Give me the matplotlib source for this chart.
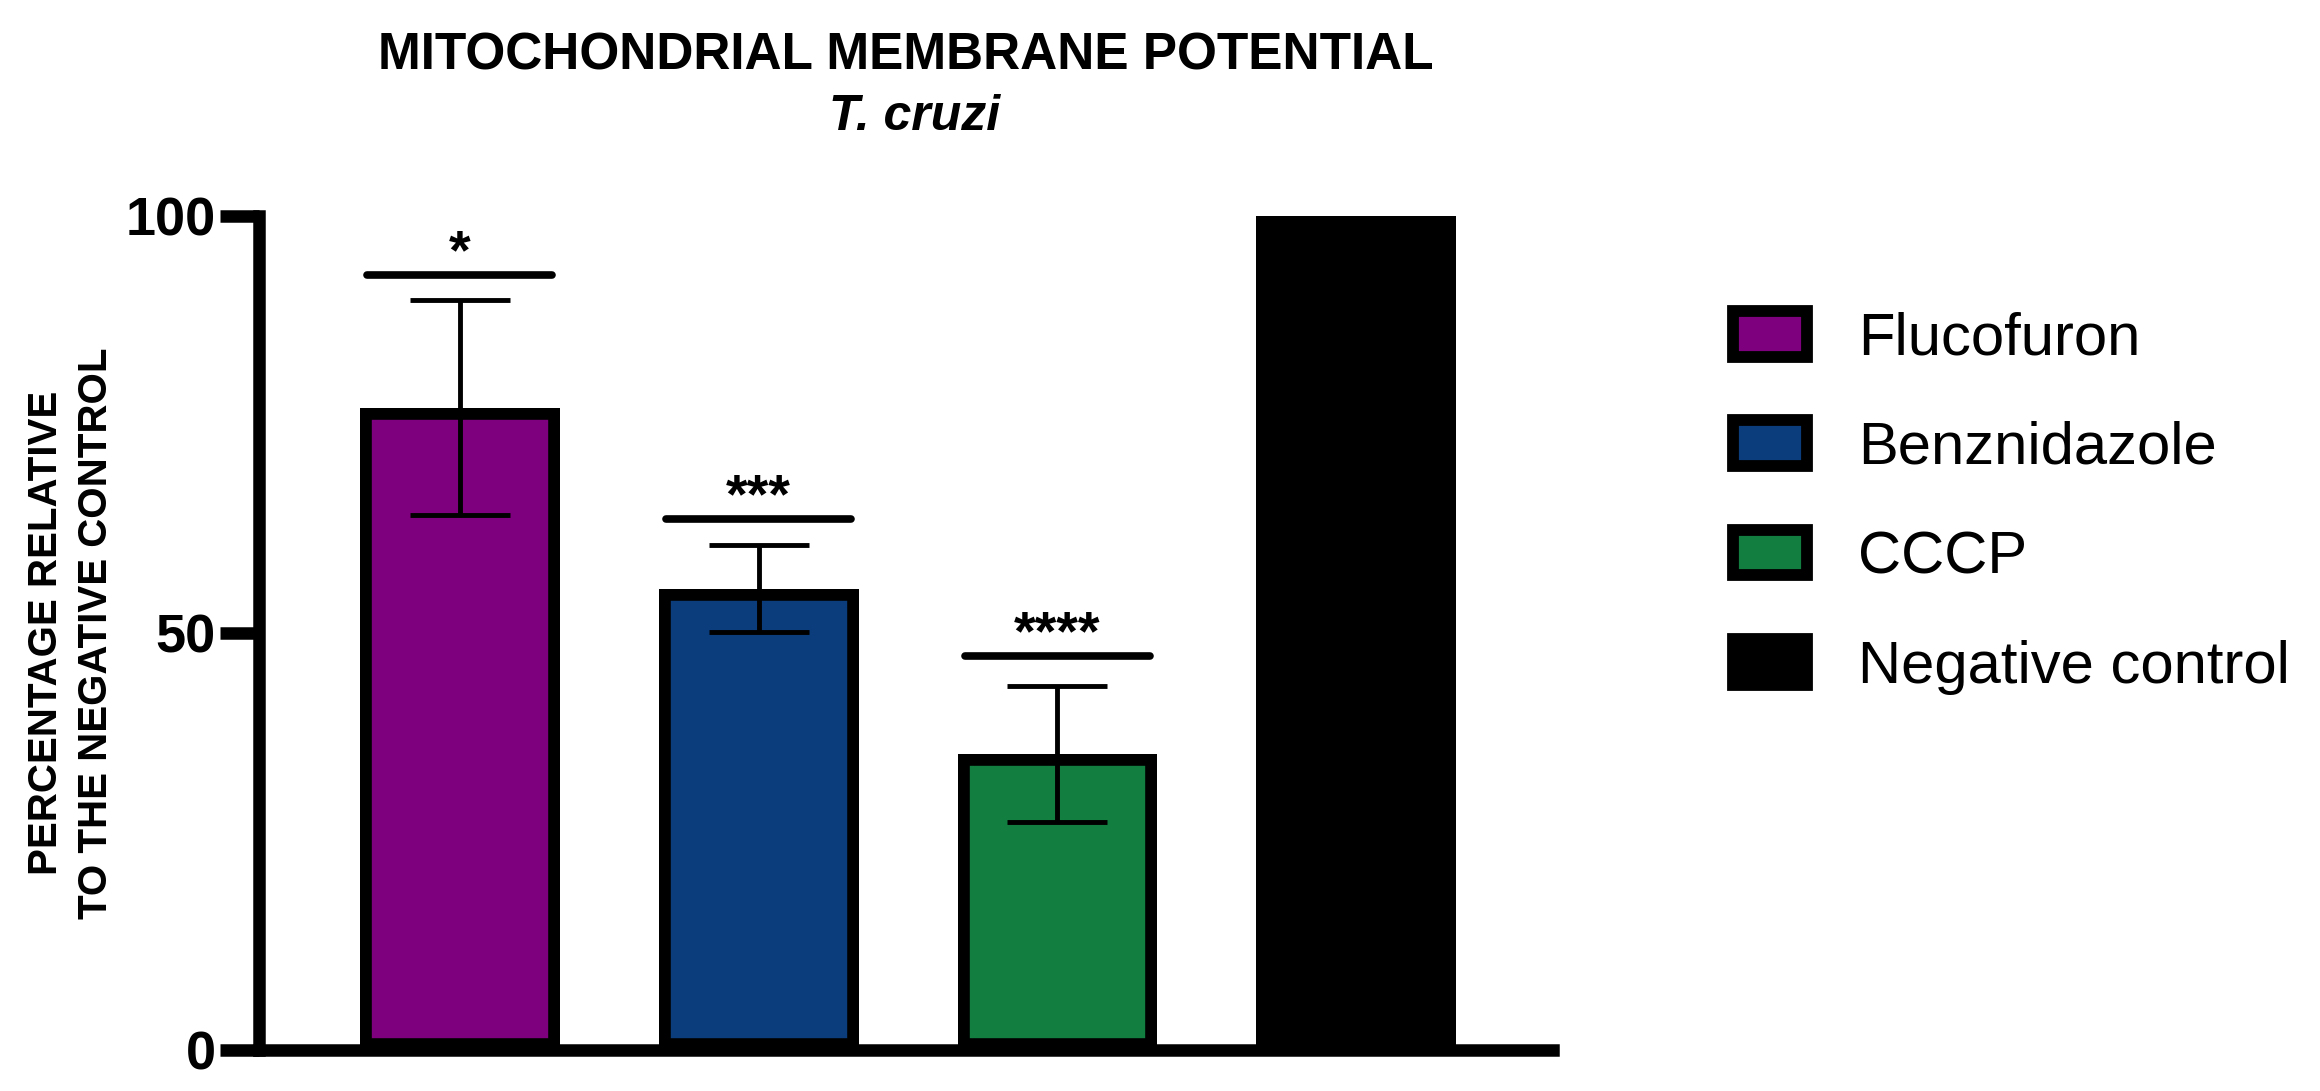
import matplotlib.pyplot as plt
from matplotlib.patches import Patch

plt.rcParams['font.family'] = ['Liberation Sans', 'DejaVu Sans']

# data
groups = ["Flucofuron", "Benznidazole", "CCCP", "Negative control"]
means = [77.0, 55.3, 35.5, 100.0]
sds = [12.9, 5.2, 8.2]
colors = ["#7f007f", "#0b3d7d", "#127f41", "#000000"]
sig_labels = ["*", "***", "****"]
sig_heights = [92.9, 63.7, 47.2]
yticks = [0, 50, 100]

fig = plt.figure(figsize=(23.2, 10.91), dpi=100)
ax = fig.add_axes([0.1116, 0.0376, 0.5578, 0.7644])

x = list(range(len(groups)))
bars = ax.bar(x, means, width=0.669, color=colors, edgecolor="black",
              linewidth=17, zorder=2)
# GraphPad style: border drawn inside the bar
for b in bars:
    b.set_clip_path(b)

# error bars (SD), drawn over the bars
ax.errorbar(x[:3], means[:3], yerr=sds, fmt="none", ecolor="black",
            elinewidth=3.5, capsize=36, capthick=3.5, zorder=3, clip_on=False)

# significance bars and stars
for i, (lab, h) in enumerate(zip(sig_labels, sig_heights)):
    ax.plot([i - 0.31, i + 0.31], [h, h], color="black", lw=5.5,
            solid_capstyle="round", clip_on=False, zorder=3)
    ax.text(i, h + 0.8, lab, ha="center", va="baseline", fontsize=40,
            fontweight="bold")

ax.set_xlim(-0.672, 3.658)
ax.set_ylim(0, 100)
ax.set_xticks([])
ax.set_yticks(yticks)
ax.set_yticklabels([str(t) for t in yticks], fontsize=39, fontweight="bold")
ax.tick_params(axis="y", length=28, width=9, pad=3)
for s in ["top", "right"]:
    ax.spines[s].set_visible(False)
for s in ["left", "bottom"]:
    ax.spines[s].set_linewidth(9)
    ax.spines[s].set_zorder(4)

fig.text(0.3905, 1 - 70 / 1091, "MITOCHONDRIAL MEMBRANE POTENTIAL",
         ha="center", va="baseline", fontsize=37, fontweight="bold")
fig.text(0.394, 1 - 130 / 1091, "T. cruzi", ha="center", va="baseline",
         fontsize=36, fontweight="bold", style="italic")

fig.text(71 / 2320, 1 - 633 / 1091,
         "PERCENTAGE RELATIVE\nTO THE NEGATIVE CONTROL",
         rotation=90, ha="center", va="center", fontsize=29,
         fontweight="bold", linespacing=1.4, multialignment="center")

handles = [Patch(facecolor=c, edgecolor="black", linewidth=8.5, label=g,
                 joinstyle="bevel")
           for g, c in zip(groups, colors)]
fig.legend(handles=handles, loc="upper left",
           bbox_to_anchor=(1733 / 2320, 1 - 311 / 1091), frameon=False,
           fontsize=43, handlelength=1.24, handleheight=0.8,
           handletextpad=0.85, labelspacing=0.9, borderpad=0,
           borderaxespad=0)

fig.savefig("out.png", dpi=100)
